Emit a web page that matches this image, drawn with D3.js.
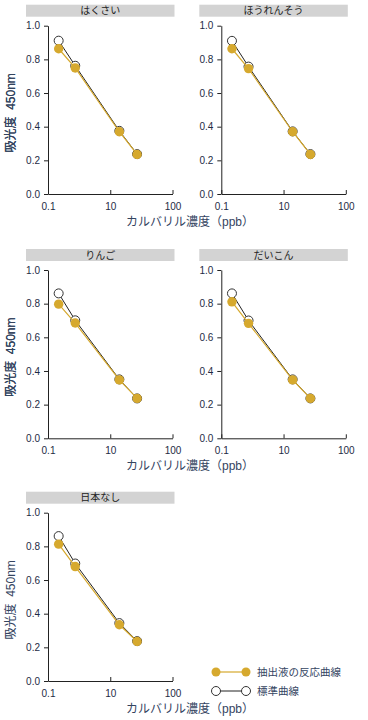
<!DOCTYPE html>
<html>
<head>
<meta charset="utf-8">
<script src="https://cdn.jsdelivr.net/npm/d3@7"></script>
<style>
  body { margin: 0; background: #fff; }
  svg { font-family: "Liberation Sans", Arial, "Noto Sans CJK JP", sans-serif; }
</style>
</head>
<body>
<div id="chart"></div>
<script>
// Data
let crops = ['はくさい', 'ほうれんそう', 'りんご', 'だいこん', '日本なし']
let conc = [0.22, 0.75, 14, 27]
let extractAbs = [
  [0.863, 0.749, 0.370, 0.235],
  [0.863, 0.745, 0.370, 0.235],
  [0.797, 0.685, 0.347, 0.237],
  [0.811, 0.683, 0.347, 0.237],
  [0.813, 0.680, 0.334, 0.235]
]
let standardAbs = [
  [0.911, 0.762, 0.375, 0.237],
  [0.910, 0.757, 0.372, 0.237],
  [0.861, 0.701, 0.350, 0.237],
  [0.861, 0.700, 0.350, 0.237],
  [0.861, 0.698, 0.344, 0.237]
]
let xTicks = [0.1, 10, 100]
let yTicks = [0, 0.2, 0.4, 0.6, 0.8, 1.0]
let seriesNames = ['抽出液の反応曲線', '標準曲線']

// Layout constants
let width = 368, height = 720
let plotW = 124.5, plotH = 168.3
let colX = [48, 221.3]
let rowY = [25.7, 270, 512.7]
let gold = '#d6a92e'
let ink = '#1e2b45'
let titleInk = '#34445f'

let svg = d3.select('#chart').append('svg')
  .attr('width', width)
  .attr('height', height)

// piecewise log scale: 0.1..10 takes half, 10..100 the other half
let x = d3.scaleLog().domain([0.1, 10, 100]).range([0, plotW / 2, plotW])
let y = d3.scaleLinear().domain([0, 1]).range([plotH, 0])

let line = d3.line()
  .x(function(d){ return x(d[0]) })
  .y(function(d){ return y(d[1]) })

crops.forEach(function(name, i){
  let col = i % 2, row = Math.floor(i / 2)
  let g = svg.append('g')
    .attr('transform', `translate(${colX[col]},${rowY[row]})`)

  // header band
  g.append('rect')
    .attr('x', -22).attr('y', -21)
    .attr('width', plotW + 24).attr('height', 12)
    .style('fill', '#d3d3d3')
  g.append('text')
    .attr('x', plotW / 2 - 10).attr('y', -15)
    .attr('dy', '0.35em')
    .attr('text-anchor', 'middle')
    .style('font-size', '10px')
    .style('fill', '#222')
    .text(name)

  // axes
  let yAxis = d3.axisLeft(y).tickValues(yTicks).tickSize(4).tickSizeOuter(0).tickPadding(4)
    .tickFormat(d3.format('.1f'))
  let gy = g.append('g').call(yAxis)
  let xAxis = d3.axisBottom(x).tickValues(xTicks).tickSizeInner(-4).tickSizeOuter(0).tickPadding(9)
    .tickFormat(function(d){ return d })
  let gx = g.append('g').attr('transform', `translate(0,${plotH})`).call(xAxis)
  ;[gx, gy].forEach(function(a){
    a.selectAll('path, line').style('stroke', '#222')
    a.selectAll('text').style('font-size', '10px').style('fill', ink)
  })

  // y title
  g.append('text')
    .attr('transform', `translate(${11 - colX[col]},${plotH / 2 + 3}) rotate(-90)`)
    .attr('text-anchor', 'middle')
    .attr('dy', '0.35em')
    .style('font-size', '12px')
    .style('white-space', 'pre')
    .style('fill', titleInk)
    .text('吸光度  450nm')

  let std = conc.map(function(c, k){ return [c, standardAbs[i][k]] })
  let ext = conc.map(function(c, k){ return [c, extractAbs[i][k]] })

  // standard curve (open circles)
  g.append('path').datum(std).attr('d', line)
    .style('fill', 'none').style('stroke', '#222').style('stroke-width', 1)
  g.selectAll('.std').data(std).enter().append('circle')
    .attr('class', 'std')
    .attr('cx', function(d){ return x(d[0]) })
    .attr('cy', function(d){ return y(d[1]) })
    .attr('r', 4.5)
    .style('fill', '#fff').style('stroke', '#333').style('stroke-width', 1)

  // extract curve (gold)
  g.append('path').datum(ext).attr('d', line)
    .style('fill', 'none').style('stroke', gold).style('stroke-width', 1.2)
  g.selectAll('.ext').data(ext).enter().append('circle')
    .attr('class', 'ext')
    .attr('cx', function(d){ return x(d[0]) })
    .attr('cy', function(d){ return y(d[1]) })
    .attr('r', 4.7)
    .style('fill', gold)
})

// x titles, one per row, centred between the columns
rowY.forEach(function(ry){
  svg.append('text')
    .attr('x', 190).attr('y', ry + plotH + 32)
    .attr('text-anchor', 'middle')
    .style('font-size', '12px')
    .style('fill', titleInk)
    .text('カルバリル濃度（ppb）')
})

// legend
let legend = svg.append('g').attr('transform', 'translate(216,672)')
seriesNames.forEach(function(s, k){
  let lg = legend.append('g').attr('transform', `translate(0,${k * 19})`)
  lg.append('line').attr('x1', 0).attr('x2', 30)
    .style('stroke', k === 0 ? gold : '#222').style('stroke-width', k === 0 ? 1.2 : 1)
  ;[0, 30].forEach(function(cx){
    lg.append('circle').attr('cx', cx).attr('r', 4.5)
      .style('fill', k === 0 ? gold : '#fff')
      .style('stroke', k === 0 ? 'none' : '#333')
  })
  lg.append('text').attr('x', 41).attr('dy', '0.35em')
    .style('font-size', '10.5px').style('fill', titleInk)
    .text(s)
})
</script>
</body>
</html>
